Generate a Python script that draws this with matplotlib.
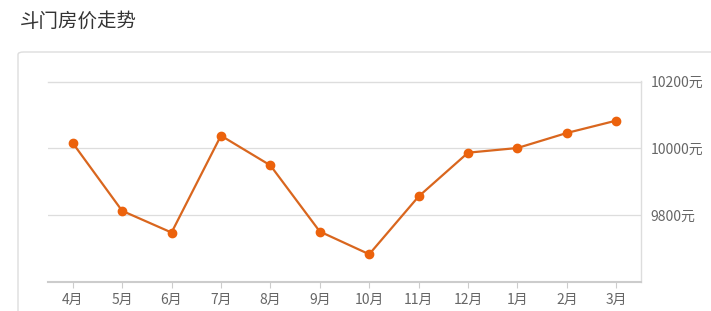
import matplotlib
matplotlib.use("Agg")
import matplotlib.pyplot as plt
from matplotlib.patches import FancyBboxPatch

plt.rcParams['font.family'] = ['Noto Sans CJK SC', 'DejaVu Sans']

months = ["4月", "5月", "6月", "7月", "8月", "9月", "10月", "11月", "12月", "1月", "2月", "3月"]
prices = [10016, 9813, 9748, 10038, 9949, 9751, 9683, 9856, 9987, 10001, 10046, 10083]
y_ticks = [9800, 10000, 10200]
y_labels = ["9800元", "10000元", "10200元"]

fig = plt.figure(figsize=(7.11, 3.11), dpi=100)

# card border around the chart
card = FancyBboxPatch((18 / 711, -0.2), 1.0, 0.2 + 1 - 52 / 311,
                      boxstyle="round,pad=0,rounding_size=0.008",
                      transform=fig.transFigure, facecolor="white",
                      edgecolor="#dddddd", linewidth=1.0, clip_on=False,
                      zorder=-5)
fig.patches.append(card)

fig.text(20 / 711, 1 - 21 / 311, "斗门房价走势", fontsize=14, color="#333333",
         va="center", ha="left")

ax = fig.add_axes([48 / 711, 29 / 311, 593 / 711, 200.5 / 311])
ax.set_zorder(2)
ax.patch.set_alpha(0)
x = list(range(len(months)))
ax.plot(x, prices, color="#d9661e", linewidth=1.6, marker="o", markersize=6,
        markerfacecolor="#ec620c", markeredgecolor="#ec620c", zorder=3)

ax.set_xlim(-0.5, len(months) - 0.5)
ax.set_ylim(9600, 10200)
ax.set_xticks(x)
ax.set_xticklabels(months)
ax.set_yticks(y_ticks)
ax.set_yticklabels(y_labels)
ax.yaxis.tick_right()
ax.tick_params(axis="y", length=0, pad=7, labelsize=10, labelcolor="#666666")
ax.tick_params(axis="x", length=4, width=0.8, color="#cccccc", pad=4,
               labelsize=10, labelcolor="#666666")
ax.grid(axis="y", color="#dddddd", linewidth=0.9)
ax.set_axisbelow(True)

for side in ["top", "right", "bottom"]:
    ax.spines[side].set_color("#dddddd")
    ax.spines[side].set_linewidth(1.0)
ax.spines["bottom"].set_color("#cccccc")
ax.spines["bottom"].set_linewidth(1.5)
ax.spines["left"].set_visible(False)

fig.savefig("out.png", dpi=100)
